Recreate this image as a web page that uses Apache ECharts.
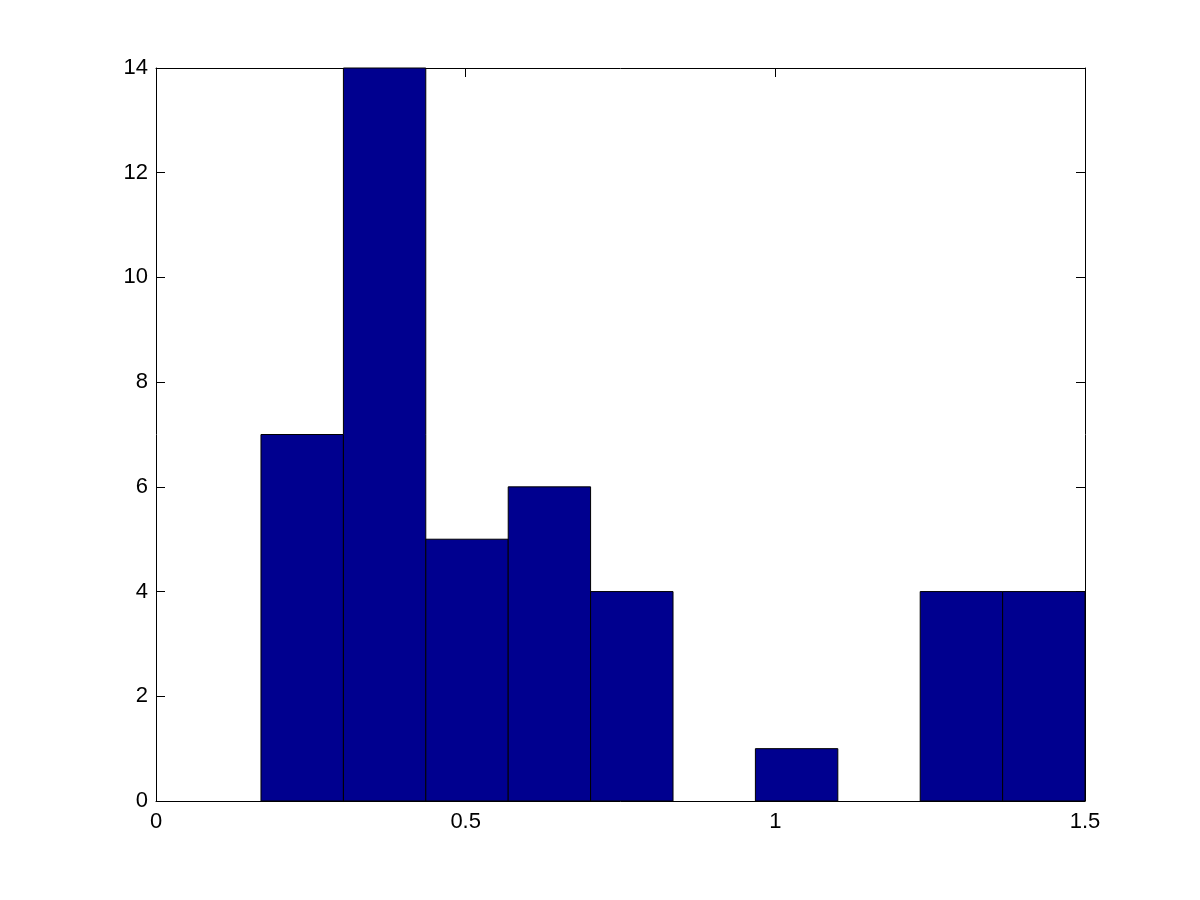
<!DOCTYPE html>
<html>
<head>
<meta charset="utf-8">
<script src="https://cdn.jsdelivr.net/npm/echarts@6/dist/echarts.min.js"></script>
<style>
  html, body { margin: 0; padding: 0; background: #fff; }
  #main { width: 1200px; height: 900px; }
</style>
</head>
<body>
<div id="main"></div>
<script>
// histogram bins (left edge, right edge) and counts
var binLeft  = [0.1695, 0.3026, 0.4356, 0.5687, 0.7017, 0.8348, 0.9678, 1.1009, 1.2339, 1.3670];
var binRight = [0.3026, 0.4356, 0.5687, 0.7017, 0.8348, 0.9678, 1.1009, 1.2339, 1.3670, 1.5000];
var counts   = [7, 14, 5, 6, 4, 0, 1, 0, 4, 4];

var data = [];
for (var i = 0; i < counts.length; i++) {
    data.push([binLeft[i], binRight[i], counts[i]]);
}

var font = 'Liberation Sans, Arial, sans-serif';
var chart = echarts.init(document.getElementById('main'));

function axisCommon(pos, showLabels, margin) {
    return {
        position: pos,
        axisLine: { show: true, onZero: false, lineStyle: { color: '#000', width: 1 } },
        axisTick: { show: true, inside: true, length: 9, lineStyle: { color: '#000' } },
        axisLabel: { show: showLabels, color: '#000', fontSize: 22, fontFamily: font, margin: margin },
        splitLine: { show: false }
    };
}

var xb = axisCommon('bottom', true, 10);
xb.type = 'value'; xb.min = 0; xb.max = 1.5; xb.interval = 0.5;
var xt = axisCommon('top', false, 8);
xt.type = 'value'; xt.min = 0; xt.max = 1.5; xt.interval = 0.5;
var yl = axisCommon('left', true, 8);
yl.type = 'value'; yl.min = 0; yl.max = 14; yl.interval = 2;
var yr = axisCommon('right', false, 8);
yr.type = 'value'; yr.min = 0; yr.max = 14; yr.interval = 2;

chart.setOption({
    backgroundColor: '#fff',
    animation: false,
    grid: { left: 156, right: 115, top: 68, bottom: 99 },
    xAxis: [xb, xt],
    yAxis: [yl, yr],
    series: [{
        type: 'custom',
        xAxisIndex: 0,
        yAxisIndex: 0,
        data: data,
        encode: { x: [0, 1], y: 2 },
        renderItem: function (params, api) {
            if (api.value(2) <= 0) return null;
            var p0 = api.coord([api.value(0), api.value(2)]);
            var p1 = api.coord([api.value(1), 0]);
            return {
                type: 'rect',
                shape: { x: p0[0], y: p0[1], width: p1[0] - p0[0], height: p1[1] - p0[1] },
                style: { fill: '#00008F', stroke: '#000', lineWidth: 1 }
            };
        }
    }]
});
</script>
</body>
</html>
